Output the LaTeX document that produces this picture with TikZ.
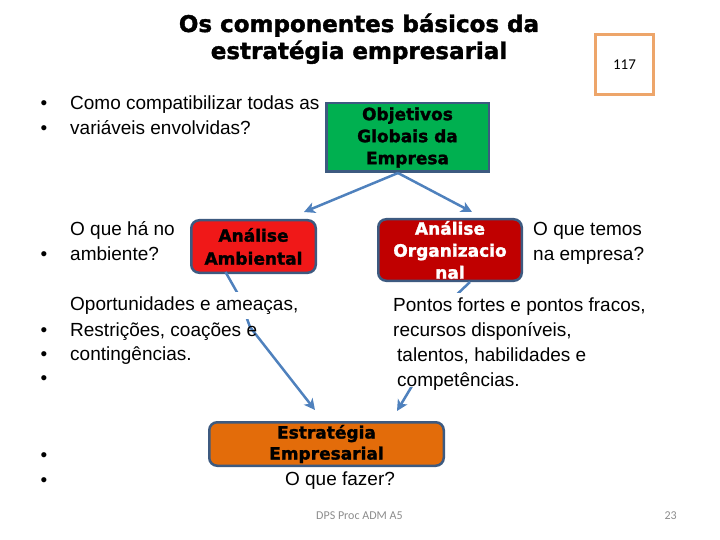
\documentclass[tikz,border=0pt]{standalone}
\usepackage{fontspec}
\setmainfont{Liberation Sans}
\newfontfamily\heavy{DejaVu Sans}[BoldFeatures={FakeBold=1.6}]
\newfontfamily\calib{Carlito}
\usetikzlibrary{arrows.meta}
\definecolor{arrowblue}{HTML}{4F81BD}
\definecolor{edgeblue}{HTML}{3D5A80}
\definecolor{boxgreen}{HTML}{00B050}
\definecolor{boxred}{HTML}{F01818}
\definecolor{boxdark}{HTML}{C00000}
\definecolor{boxorange}{HTML}{E36C0A}
\definecolor{pagebox}{HTML}{EDA56A}
\definecolor{footgray}{HTML}{8C8C8C}
\tikzset{
  shapebox/.style={draw=edgeblue, line width=2.5pt, inner sep=0pt, align=center,
    font=\heavy\bfseries\fontsize{17}{22}\selectfont},
  txt/.style={anchor=base west, inner sep=0pt, font=\fontsize{19}{23}\selectfont},
  covertxt/.style={txt, fill=white, inner ysep=4.5pt},
  bul/.style={anchor=base, inner sep=0pt, font=\fontsize{19}{23}\selectfont},
  conn/.style={draw=arrowblue, line width=2.5pt, -{Stealth[length=11pt,width=11pt,inset=3pt]}},
  foot/.style={inner sep=0pt, text=footgray, font=\calib\fontsize{12}{14}\selectfont}
}
\begin{document}
\begin{tikzpicture}[x=1pt,y=-1pt]
\useasboundingbox (0,0) rectangle (720,540);
% title
\node[anchor=base, inner sep=0pt, font=\heavy\bfseries\fontsize{23}{27}\selectfont] (t1) at (359,32) {Os componentes básicos da};
\node[anchor=base, inner sep=0pt, font=\heavy\bfseries\fontsize{23}{27}\selectfont] (t2) at (359,59) {estratégia empresarial};
% page box
\node[draw=pagebox, line width=3pt, minimum width=58pt, minimum height=60pt, inner sep=0pt,
      font=\calib\fontsize{15}{18}\selectfont] (pg) at (624.5,64.5) {117};
% boxes
\node[shapebox, fill=boxgreen, minimum width=162.5pt, minimum height=68.5pt] (obj) at (407.5,137.5)
  {Objetivos\\Globais da\\Empresa};
\node[shapebox, fill=boxred, rounded corners=8pt, minimum width=124.5pt, minimum height=52.5pt,
      font=\heavy\bfseries\fontsize{17}{23}\selectfont] (amb) at (253.5,246.5)
  {Análise\\Ambiental};
\node[shapebox, fill=boxdark, text=white, rounded corners=8pt, minimum width=143.5pt, minimum height=61.5pt] (org) at (450,250)
  {Análise\\Organizacio\\nal};
\node[shapebox, fill=boxorange, rounded corners=8pt, minimum width=234.5pt, minimum height=43.5pt,
      font=\heavy\bfseries\fontsize{17}{21}\selectfont] (est) at (326.5,444)
  {Estratégia\\Empresarial};
% connectors
\draw[conn] ([xshift=-9.5pt]obj.south) -- ([xshift=-13pt,yshift=7pt]amb.north east);
\draw[conn] ([xshift=-9.5pt]obj.south) -- ([xshift=22pt,yshift=6pt]org.north);
\draw[conn] ([xshift=-28pt,yshift=2pt]amb.south) -- (238,294) -- (250,327) -- ([xshift=-11.5pt,yshift=11pt]est.north);
\draw[conn] ([xshift=20pt]org.south) -- (450,301) -- (412,386) -- ([xshift=70.5pt,yshift=10pt]est.north);
% left texts
\node[bul] (b1) at (44,110) {•};
\node[bul] (b2) at (44,135) {•};
\node[txt] (l1) at (70,110) {Como compatibilizar todas as};
\node[txt] (l2) at (70,135) {variáveis envolvidas?};
\node[bul] (b3) at (44,260) {•};
\node[txt] (l3) at (70,236) {O que há no};
\node[txt] (l4) at (70,260) {ambiente?};
\node[covertxt] (l5) at (70,310) {Oportunidades e ameaças,};
\node[bul] (b4) at (44,336) {•};
\node[bul] (b5) at (44,360) {•};
\node[bul] (b6) at (44,384) {•};
\node[txt] (l6) at (70,336) {Restrições, coações e};
\node[txt] (l7) at (70,360) {contingências.};
\node[bul] (b7) at (44,461) {•};
\node[bul] (b8) at (44,486) {•};
% right texts
\node[txt] (r1) at (533,236) {O que temos};
\node[txt] (r2) at (533,260) {na empresa?};
\node[covertxt] (r3) at (393,311) {Pontos fortes e pontos fracos,};
\node[covertxt] (r4) at (393,336) {recursos disponíveis,};
\node[covertxt] (r5) at (397,361) {talentos, habilidades e};
\node[covertxt, inner ysep=0.5pt, text height=19pt, text depth=0pt] (r6) at (397,386) {competências.};
\node[bul] (q) at (340,485) {O que fazer?};
% footer
\node[foot, anchor=base west] (f1) at (316,519) {DPS Proc ADM A5};
\node[foot, anchor=base east] (f2) at (677,519) {23};
\end{tikzpicture}
\end{document}
